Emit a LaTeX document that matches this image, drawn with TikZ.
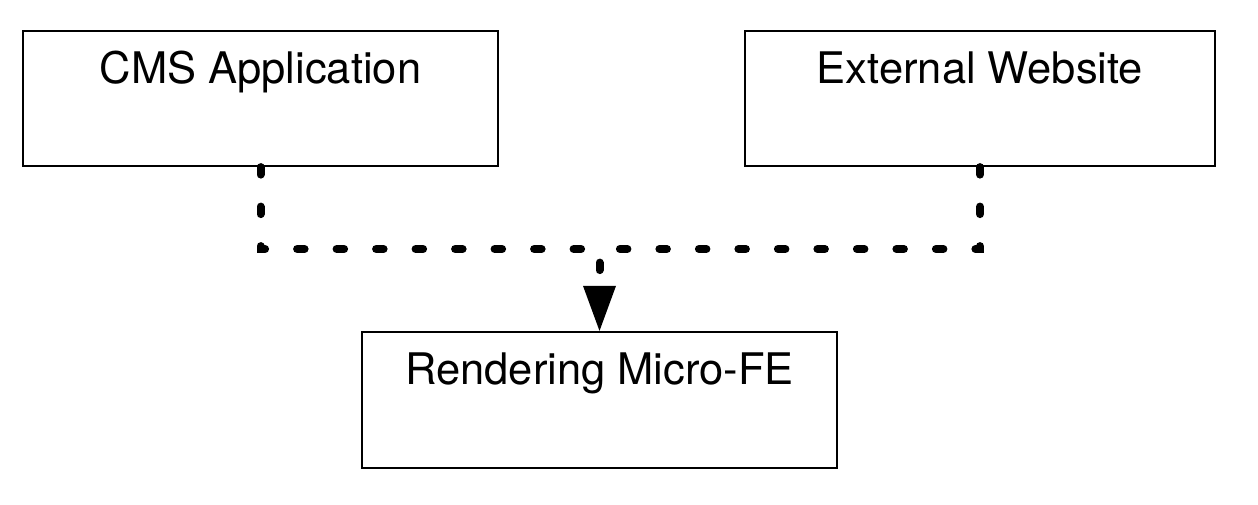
\documentclass[tikz,border=0pt]{standalone}
\usepackage{fontspec}
\setmainfont{TeX Gyre Heros}
\usetikzlibrary{arrows.meta}
\begin{document}
\begin{tikzpicture}[x=1pt,y=-1pt,
  box/.style={draw, line width=2.2pt, rectangle, inner sep=0pt, minimum height=135pt},
  lbl/.style={font=\fontsize{43.5}{50}\selectfont, anchor=base, inner sep=0pt},
  conn/.style={line width=8pt, line cap=round, dash pattern=on 7.5pt off 32pt}]
\useasboundingbox (0,0) rectangle (1258,504);
\node[box, minimum width=475pt] (cms) at (260.5,98.5) {};
\node[box, minimum width=470pt] (ext) at (980,98.5) {};
\node[box, minimum width=475pt, minimum height=136pt] (rend) at (599.5,400) {};
\node[lbl] (cmst) at (260.5,83) {CMS Application};
\node[lbl] (extt) at (980,83) {External Website};
\node[lbl] (rendt) at (599.5,384) {Rendering Micro-FE};
\coordinate (jn) at (599.5,249);
\draw[conn, -{Triangle[width=33pt,length=45pt,line width=0pt]}] (cms.south) |- (jn) -- (rend.north);
\draw[conn] (ext.south) |- (jn);
\end{tikzpicture}
\end{document}
